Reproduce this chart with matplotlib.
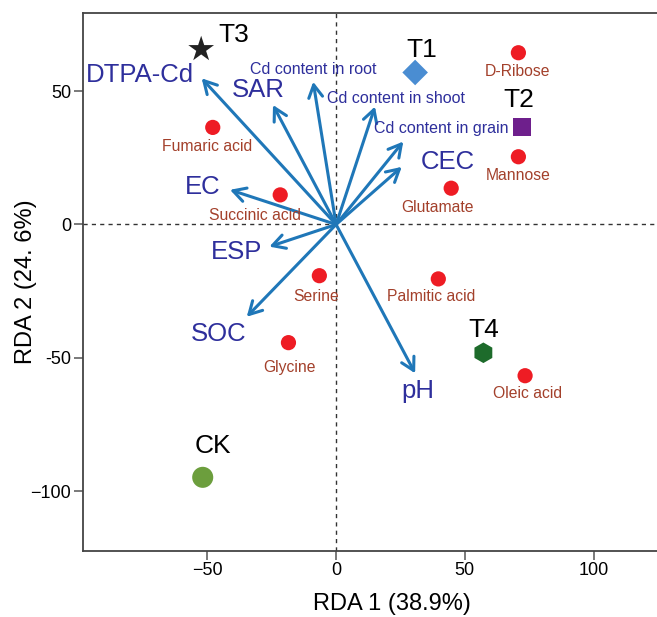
import numpy as np
import matplotlib
matplotlib.use("Agg")
import matplotlib.pyplot as plt

plt.rcParams['font.family'] = ['Liberation Sans', 'DejaVu Sans']

# environmental factors (arrow tips)
env_names = ["DTPA-Cd", "SAR", "Cd content in root", "Cd content in shoot",
             "Cd content in grain", "CEC", "EC", "ESP", "SOC", "pH"]
env_x = [-52.2, -24.5, -8.9, 15.1, 26.1, 25.5, -41.2, -25.9, -34.7, 30.7]
env_y = [54.8, 44.8, 53.5, 44.2, 31.1, 21.6, 13.0, -8.3, -34.6, -55.8]

# metabolites
met_names = ["Fumaric acid", "Succinic acid", "D-Ribose", "Mannose", "Glutamate",
             "Serine", "Glycine", "Palmitic acid", "Oleic acid"]
met_x = [-47.9, -21.7, 70.8, 70.8, 44.7, -6.5, -18.5, 39.7, 73.4]
met_y = [36.4, 11.1, 64.4, 25.4, 13.6, -19.2, -44.3, -20.4, -56.7]

# treatments
trt_names = ["T1", "T2", "T3", "T4", "CK"]
trt_x = [30.7, 72.1, -52.4, 57.2, -51.8]
trt_y = [57.0, 36.4, 65.7, -48.1, -94.8]

xtick_vals = [-50, 0, 50, 100]
xtick_text = ["\u221250", "0", "50", "100"]
ytick_vals = [-100, -50, 0, 50]
ytick_text = ["\u2212100", "-50", "0", "50"]

# label offsets in pixels (layout only)
env_off = [(-62, 3), (-15, 15), (0, 12), (21, 8), (38, 13), (46, 5),
           (-27, 3), (-33, -5), (-28, -17), (3, -18)]
env_fs = [18.5, 18.5, 11.5, 11.5, 11.5, 18.5, 18.5, 18.5, 18.5, 18.5]
met_off = [(-6, -19), (-25, -21), (-1, -19), (0, -19), (-14, -19),
           (-3, -21), (1, -25), (-7, -18), (2, -18)]
trt_off = [(7, 22), (-3, 27), (33, 14), (0, 23), (10, 31)]
trt_marker = ["D", "s", "*", "h", "o"]
trt_color = ["#4a8dd2", "#6e1f8c", "#222222", "#1d6b2b", "#6c9e3d"]
trt_size = [170, 170, 380, 220, 230]

arrow_col = "#1f77b8"
env_col = "#2e2f9c"
met_col = "#a3402b"
dot_col = "#ee1c24"

fig = plt.figure(figsize=(6.57, 6.17), dpi=100)
ax = fig.add_axes([0.1263, 0.1075, 0.9406, 0.871])
ax.set_xlim(-98.3, 141.7)
ax.set_ylim(-122.3, 79.2)

ax.axhline(0, color="#333333", lw=1, ls=(0, (3, 3)), zorder=1)
ax.axvline(0, color="#333333", lw=1, ls=(0, (3, 3)), zorder=1)

for i in range(len(env_names)):
    ax.annotate("", xy=(env_x[i], env_y[i]), xytext=(0, 0),
                arrowprops=dict(arrowstyle="->,head_length=0.45,head_width=0.25",
                                color=arrow_col, lw=2.2, shrinkA=0, shrinkB=0,
                                mutation_scale=20), zorder=3)
    ax.annotate(env_names[i], xy=(env_x[i], env_y[i]), xytext=env_off[i],
                textcoords="offset pixels", ha="center", va="center",
                color=env_col, fontsize=env_fs[i], zorder=4)

ax.scatter(met_x, met_y, s=120, color=dot_col, edgecolors="none", zorder=5)
for i in range(len(met_names)):
    ax.annotate(met_names[i], xy=(met_x[i], met_y[i]), xytext=met_off[i],
                textcoords="offset pixels", ha="center", va="center",
                color=met_col, fontsize=11.3, zorder=4)

for i in range(len(trt_names)):
    ax.scatter(trt_x[i], trt_y[i], s=trt_size[i], marker=trt_marker[i],
               color=trt_color[i], edgecolors="none", zorder=6)
    ax.annotate(trt_names[i], xy=(trt_x[i], trt_y[i]), xytext=trt_off[i],
                textcoords="offset pixels", ha="center", va="center",
                color="black", fontsize=19, zorder=6)

ax.set_xticks(xtick_vals)
ax.set_xticklabels(xtick_text)
ax.set_yticks(ytick_vals)
ax.set_yticklabels(ytick_text)
ax.tick_params(direction="out", length=6.5, width=1.1, color="#555555",
               labelsize=13, pad=2)

for side in ["left", "bottom", "top"]:
    ax.spines[side].set_color("#444444")
    ax.spines[side].set_linewidth(1.3)
ax.spines["right"].set_visible(False)

ax.set_xlabel("RDA 1 (38.9%)", fontsize=17, labelpad=10)
ax.set_ylabel("RDA 2 (24. 6%)", fontsize=17, labelpad=-5)

fig.savefig("out.png", dpi=100)
